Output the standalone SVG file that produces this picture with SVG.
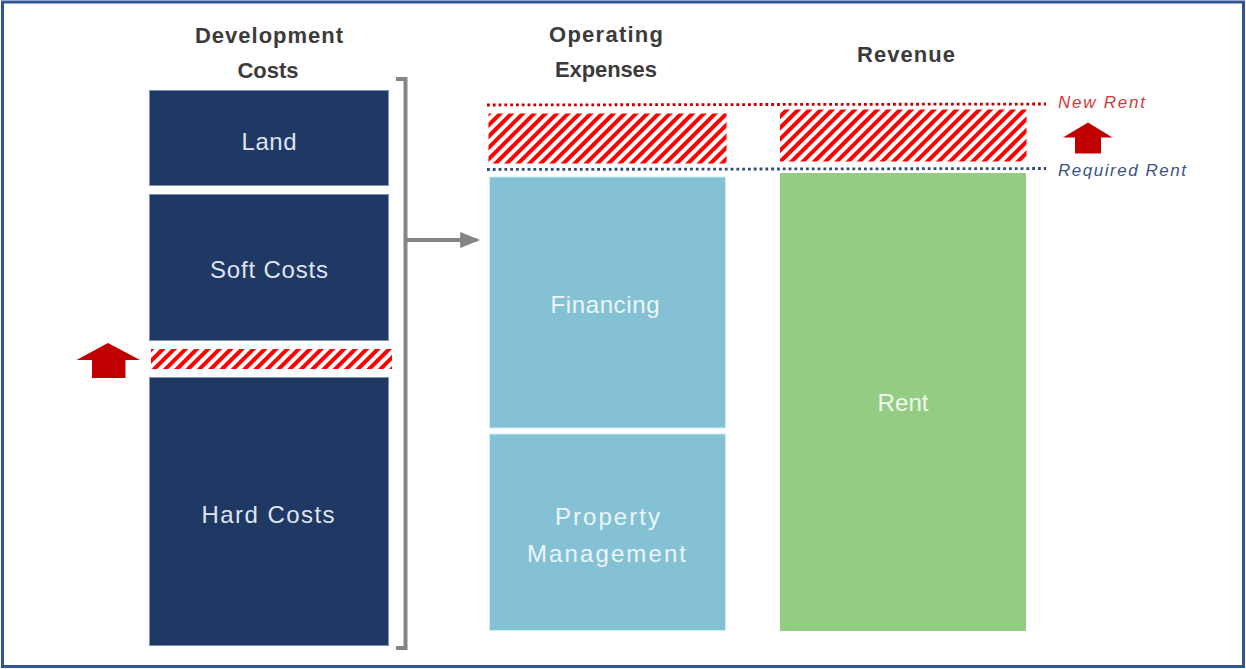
<svg xmlns="http://www.w3.org/2000/svg" width="1246" height="669" viewBox="0 0 1246 669">
  <defs>
    <!-- diagonal red stripes for the added-cost / added-rent bands -->
    <pattern id="hatch" patternUnits="userSpaceOnUse" width="8" height="8" patternTransform="rotate(45)">
      <rect x="0" y="0" width="8" height="8" fill="#ffffff"/>
      <rect x="0" y="0" width="4" height="8" fill="#ff0000"/>
    </pattern>
    <marker id="arrowGray" markerWidth="5" markerHeight="4" refX="4.2" refY="2" orient="auto" markerUnits="strokeWidth">
      <path d="M0,0 L5,2 L0,4 Z" fill="#858585"/>
    </marker>
  </defs>
  <style>
    .head { font-family: "Liberation Sans", Arial, sans-serif; font-size: 22px; font-weight: bold; fill: #3b3b3b; text-anchor: middle; }
    .lbl { font-family: "Liberation Sans", Arial, sans-serif; font-size: 24px; text-anchor: middle; }
    .dark { fill: #203864; stroke: #7d92bb; stroke-width: 1; }
    .dark-t { fill: #dfe5ee; }
    .ops { fill: #84c1d4; stroke: #c8f2fb; stroke-width: 1; }
    .ops-t { fill: #eaf6f9; }
    .rev { fill: #94cc84; }
    .rev-t { fill: #f1f9ee; }
    .hatch { fill: url(#hatch); }
    .up { fill: #c00000; }
    .note { font-family: "Liberation Sans", Arial, sans-serif; font-size: 17px; font-style: italic; }
    .conn { fill: none; stroke: #858585; stroke-width: 4; }
  </style>

  <!-- frame -->
  <rect x="2.5" y="2" width="1241" height="664.5" fill="#ffffff" stroke="#2f5597" stroke-width="3"/>

  <!-- column headings -->
  <g id="heading-dev">
    <text class="head" x="269" y="43" textLength="148" lengthAdjust="spacing">Development</text>
    <text class="head" x="268" y="78" textLength="61" lengthAdjust="spacing">Costs</text>
  </g>
  <g id="heading-ops">
    <text class="head" x="606" y="42" textLength="114" lengthAdjust="spacing">Operating</text>
    <text class="head" x="606" y="77" textLength="102" lengthAdjust="spacing">Expenses</text>
  </g>
  <g id="heading-rev">
    <text class="head" x="906" y="62" textLength="98" lengthAdjust="spacing">Revenue</text>
  </g>

  <!-- development cost stack -->
  <g id="land">
    <rect class="dark" x="149.5" y="90.5" width="239" height="95"/>
    <text class="lbl dark-t" x="269" y="150" textLength="55" lengthAdjust="spacing">Land</text>
  </g>
  <g id="soft-costs">
    <rect class="dark" x="149.5" y="194.5" width="239" height="146"/>
    <text class="lbl dark-t" x="269" y="278" textLength="118" lengthAdjust="spacing">Soft Costs</text>
  </g>
  <g id="cost-increase">
    <rect class="hatch" x="151" y="349" width="241" height="20"/>
  </g>
  <g id="hard-costs">
    <rect class="dark" x="149.5" y="377.5" width="239" height="268"/>
    <text class="lbl dark-t" x="268" y="523" textLength="133" lengthAdjust="spacing">Hard Costs</text>
  </g>
  <g id="arrow-cost-up">
    <polygon class="up" points="108,343 140,360 125.5,360 125.5,378 92,378 92,360 76.5,360"/>
  </g>

  <!-- operating expense stack -->
  <g id="ops-increase">
    <rect class="hatch" x="488.5" y="113.5" width="238" height="50"/>
  </g>
  <g id="financing">
    <rect class="ops" x="489.5" y="177" width="236" height="251"/>
    <text class="lbl ops-t" x="605" y="313" textLength="109" lengthAdjust="spacing">Financing</text>
  </g>
  <g id="property-management">
    <rect class="ops" x="489.5" y="434" width="236" height="196.5"/>
    <text class="lbl ops-t" x="607.5" y="525" textLength="105" lengthAdjust="spacing">Property</text>
    <text class="lbl ops-t" x="606.5" y="562" textLength="159" lengthAdjust="spacing">Management</text>
  </g>

  <!-- revenue stack -->
  <g id="rent-increase">
    <rect class="hatch" x="780" y="109.5" width="246.5" height="52"/>
  </g>
  <g id="rent">
    <rect class="rev" x="780" y="173" width="246" height="458"/>
    <text class="lbl rev-t" x="903" y="411" textLength="51" lengthAdjust="spacing">Rent</text>
  </g>

  <!-- rent level markers -->
  <g id="new-rent">
    <line x1="487" y1="105" x2="1046" y2="104" stroke="#c00000" stroke-width="2.8" stroke-dasharray="2.8 3"/>
    <text class="note" x="1058" y="108" fill="#d03a3a" textLength="87" lengthAdjust="spacing">New Rent</text>
  </g>
  <g id="required-rent">
    <line x1="487" y1="169.5" x2="1046" y2="168.5" stroke="#2f4b7c" stroke-width="2.8" stroke-dasharray="2.8 3"/>
    <text class="note" x="1058" y="176" fill="#3c5282" textLength="128" lengthAdjust="spacing">Required Rent</text>
  </g>
  <g id="arrow-rent-up">
    <polygon class="up" points="1088,122.5 1112.5,137.5 1101,137.5 1101,153.5 1075,153.5 1075,137.5 1063,137.5"/>
  </g>

  <!-- connectors: bracket grouping development costs, feeding operating expenses -->
  <g id="connectors">
    <path class="conn" d="M396,79 L405.5,79 L405.5,648 L396,648"/>
    <path class="conn" d="M407,240 L477,240" marker-end="url(#arrowGray)"/>
  </g>
</svg>
